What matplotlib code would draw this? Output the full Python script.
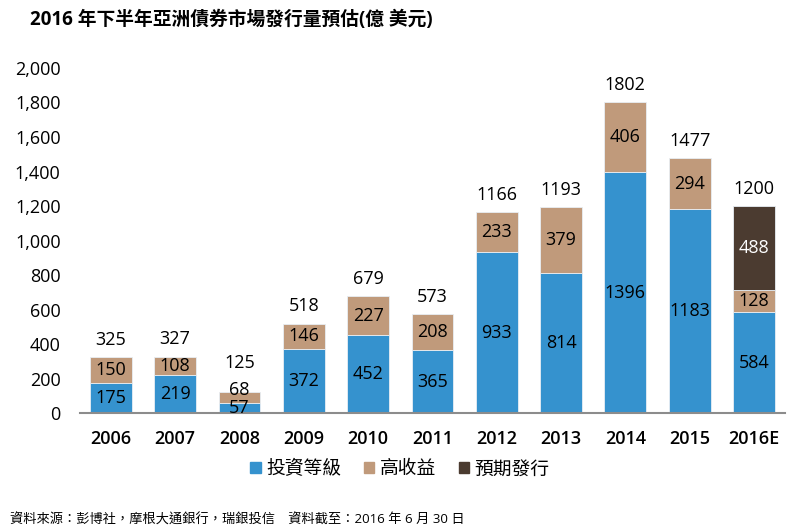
import numpy as np
import matplotlib
matplotlib.use("Agg")
import matplotlib.pyplot as plt
from matplotlib.patches import Patch

plt.rcParams["font.family"] = ["Open Sans", "Noto Sans CJK TC", "DejaVu Sans"]

years = ["2006", "2007", "2008", "2009", "2010", "2011", "2012", "2013", "2014", "2015", "2016E"]
invest_grade = [175, 219, 57, 372, 452, 365, 933, 814, 1396, 1183, 584]
high_yield = [150, 108, 68, 146, 227, 208, 233, 379, 406, 294, 128]
expected = [0, 0, 0, 0, 0, 0, 0, 0, 0, 0, 488]
totals = [325, 327, 125, 518, 679, 573, 1166, 1193, 1802, 1477, 1200]

c_blue = "#3592CE"
c_tan = "#C09A7B"
c_dark = "#4B3B30"

fig = plt.figure(figsize=(8, 5.31), dpi=100)
ax = fig.add_axes([0.1, 0.222, 0.881, 0.65])

x = np.arange(len(years))
w = 0.65
ig = np.array(invest_grade)
hy = np.array(high_yield)
ex = np.array(expected)

ax.bar(x, ig, w, color=c_blue, edgecolor="#e8eef4", linewidth=0.6, zorder=2)
ax.bar(x, hy, w, bottom=ig, color=c_tan, edgecolor="#e8eef4", linewidth=0.6, zorder=2)
mask = ex > 0
ax.bar(x[mask], ex[mask], w, bottom=(ig + hy)[mask], color=c_dark,
       edgecolor="#e8eef4", linewidth=0.6, zorder=2)

fs = 13
# 小さい棒 (2008) はラベルを少し上にずらす
hy_shift = [5 if years[i] == "2008" else 0 for i in range(len(years))]
tot_shift = [14 if years[i] == "2008" else 6 for i in range(len(years))]

for i in range(len(years)):
    ax.text(x[i], ig[i] / 2, str(ig[i]), ha="center", va="center", fontsize=fs, zorder=3)
    ax.annotate(str(hy[i]), (x[i], ig[i] + hy[i] / 2), xytext=(0, hy_shift[i]),
                textcoords="offset points", ha="center", va="center", fontsize=fs, zorder=3)
    if ex[i] > 0:
        ax.text(x[i], ig[i] + hy[i] + ex[i] / 2, str(ex[i]), ha="center", va="center",
                fontsize=fs, color="white", zorder=3)
    ax.annotate(str(totals[i]), (x[i], totals[i]), xytext=(0, tot_shift[i]),
                textcoords="offset points", ha="center", va="bottom", fontsize=fs)

ax.set_xlim(-0.48, 10.48)
ax.set_ylim(0, 2000)
ax.set_yticks(np.arange(0, 2001, 200))
ax.set_yticklabels([f"{v:,}" for v in range(0, 2001, 200)], fontsize=fs)
ax.set_xticks(x)
ax.set_xticklabels(years, fontsize=fs, fontweight="semibold")
ax.tick_params(axis="both", length=0)
ax.tick_params(axis="x", pad=12)
ax.tick_params(axis="y", pad=14)
for s in ["top", "right", "left"]:
    ax.spines[s].set_visible(False)
ax.spines["bottom"].set_color("#8c8c8c")
ax.spines["bottom"].set_linewidth(1.5)

handles = [Patch(color=c_blue), Patch(color=c_tan), Patch(color=c_dark)]
fig.legend(handles, ["投資等級", "高收益", "預期發行"], loc="center", bbox_to_anchor=(0.5, 0.116),
           ncol=3, frameon=False, fontsize=13.5, handlelength=0.55, handleheight=0.55,
           handletextpad=0.3, columnspacing=1.2)

fig.text(0.037, 0.962, "2016 年下半年亞洲債券市場發行量預估(億 美元)", fontsize=13.5,
         fontweight="bold", va="center")
fig.text(0.012, 0.02, "資料來源：彭博社，摩根大通銀行，瑞銀投信　資料截至：2016 年 6 月 30 日",
         fontsize=9.5, va="center")

fig.savefig("out.png", dpi=100)
